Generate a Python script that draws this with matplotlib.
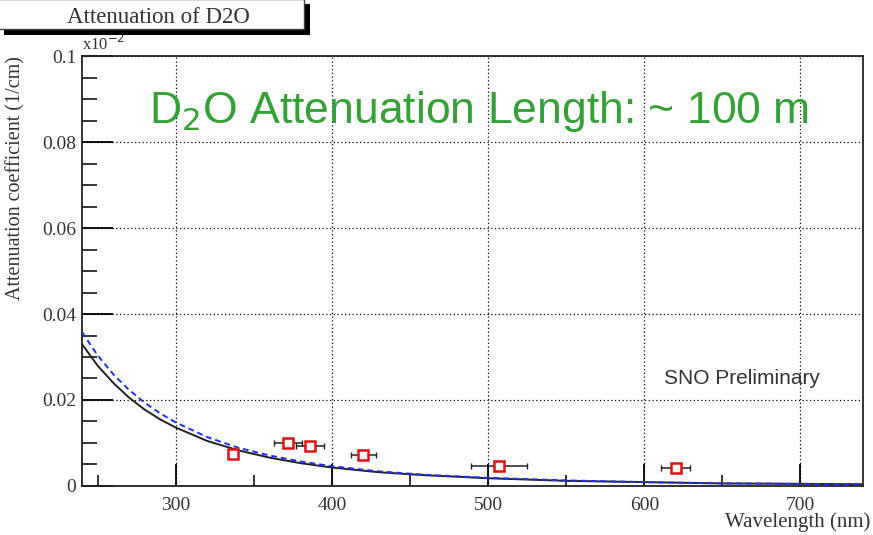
import matplotlib
matplotlib.use("Agg")
import matplotlib.pyplot as plt
from matplotlib.patches import Rectangle
from matplotlib.ticker import MultipleLocator

# measured points (wavelength in nm, attenuation in units of 1e-2 /cm)
wl_pts = [337, 372, 386, 420, 507, 620]
att_pts = [0.0075, 0.0101, 0.0094, 0.0073, 0.0047, 0.0043]
wl_err = [0, 9, 9, 8, 18, 9]
att_err = [0.0009, 0.0006, 0.0006, 0.0005, 0.0005, 0.0005]

# curves
wl_curve = [240, 250, 260, 270, 280, 290, 300, 320, 340, 360, 380, 400,
            430, 460, 500, 550, 600, 650, 700, 740]
att_fit = [0.0330, 0.0280, 0.0240, 0.0206, 0.0178, 0.0155, 0.0136, 0.0105,
           0.0083, 0.0066, 0.0053, 0.0043, 0.0032, 0.0025, 0.0018, 0.0012,
           0.0009, 0.0006, 0.0005, 0.0004]
att_alt = [0.0358, 0.0304, 0.0260, 0.0224, 0.0194, 0.0169, 0.0148, 0.0114,
           0.0089, 0.0071, 0.0057, 0.0046, 0.0034, 0.0026, 0.0019, 0.0013,
           0.0009, 0.0006, 0.0005, 0.0004]

x_ticks = [300, 400, 500, 600, 700]
y_ticks = [0, 0.02, 0.04, 0.06, 0.08, 0.1]
y_tick_labels = ["0", "0.02", "0.04", "0.06", "0.08", "0.1"]

serif = "Liberation Serif"
sans = "Liberation Sans"

fig = plt.figure(figsize=(8.73, 5.35), dpi=100)
ax = fig.add_axes([0.0939, 0.0916, 0.8946, 0.8037])

ax.plot(wl_curve, att_fit, color="#222222", lw=1.4, zorder=3)
ax.plot(wl_curve, att_alt, color="#1f2fff", lw=1.4, ls=(0, (3, 2)), zorder=3)

ax.errorbar(wl_pts, att_pts, xerr=wl_err, yerr=att_err, fmt="none",
            ecolor="#222222", elinewidth=1.1, capsize=2, zorder=4)
ax.plot(wl_pts, att_pts, ls="none", marker="s", ms=7, mfc="white",
        mec="#e01010", mew=1.8, zorder=5)

ax.set_xlim(240, 740)
ax.set_ylim(0, 0.1)
ax.set_xticks(x_ticks)
ax.set_yticks(y_ticks)
ax.set_yticklabels(y_tick_labels)
ax.xaxis.set_minor_locator(MultipleLocator(50))
ax.yaxis.set_minor_locator(MultipleLocator(0.005))

ax.tick_params(axis="x", which="major", direction="in", length=16, width=1.3,
               labelsize=14, pad=8, labelcolor="#333333")
ax.tick_params(axis="x", which="minor", direction="in", length=8, width=1.1)
ax.tick_params(axis="y", which="major", direction="in", length=22, width=1.3,
               labelsize=14, pad=4, labelcolor="#333333")
ax.tick_params(axis="y", which="minor", direction="in", length=11, width=1.1)
for lab in ax.get_xticklabels() + ax.get_yticklabels():
    lab.set_fontfamily(serif)

ax.grid(True, which="major", color="black", lw=0.9, ls=(0, (1, 2)))
for sp in ax.spines.values():
    sp.set_linewidth(1.3)
    sp.set_color("#222222")

ax.set_ylabel("Attenuation coefficient (1/cm)", family=serif, fontsize=14.5,
              color="#333333")
ax.yaxis.set_label_coords(-0.072, 1.0)
ax.yaxis.label.set_horizontalalignment("right")
ax.set_xlabel("Wavelength (nm)", family=serif, fontsize=15, color="#333333")
ax.xaxis.set_label_coords(1.01, -0.062)
ax.xaxis.label.set_horizontalalignment("right")

ax.text(0.0, 1.005, r"x10$^{-2}$", transform=ax.transAxes, family=serif,
        fontsize=12, color="#333333", va="bottom", ha="left")

ax.text(0.086, 0.87, r"D$_2$O Attenuation Length: ~ 100 m", transform=ax.transAxes,
        family=sans, fontsize=32, color="#35a035", va="center", ha="left")
ax.text(0.745, 0.25, "SNO Preliminary", transform=ax.transAxes, family=sans,
        fontsize=15, color="#333333", va="center", ha="left")

# title box with drop shadow, ROOT style
fig.patches.append(Rectangle((0.005, 0.935), 0.35, 0.058, transform=fig.transFigure,
                             facecolor="black", edgecolor="none", zorder=1))
fig.patches.append(Rectangle((-0.01, 0.945), 0.358, 0.056, transform=fig.transFigure,
                             facecolor="white", edgecolor="#444444", lw=1.0, zorder=2))
fig.text(0.181, 0.968, "Attenuation of D2O", family=serif, fontsize=16.5,
         color="#333333", ha="center", va="center", zorder=3)

fig.savefig("out.png", dpi=100)
